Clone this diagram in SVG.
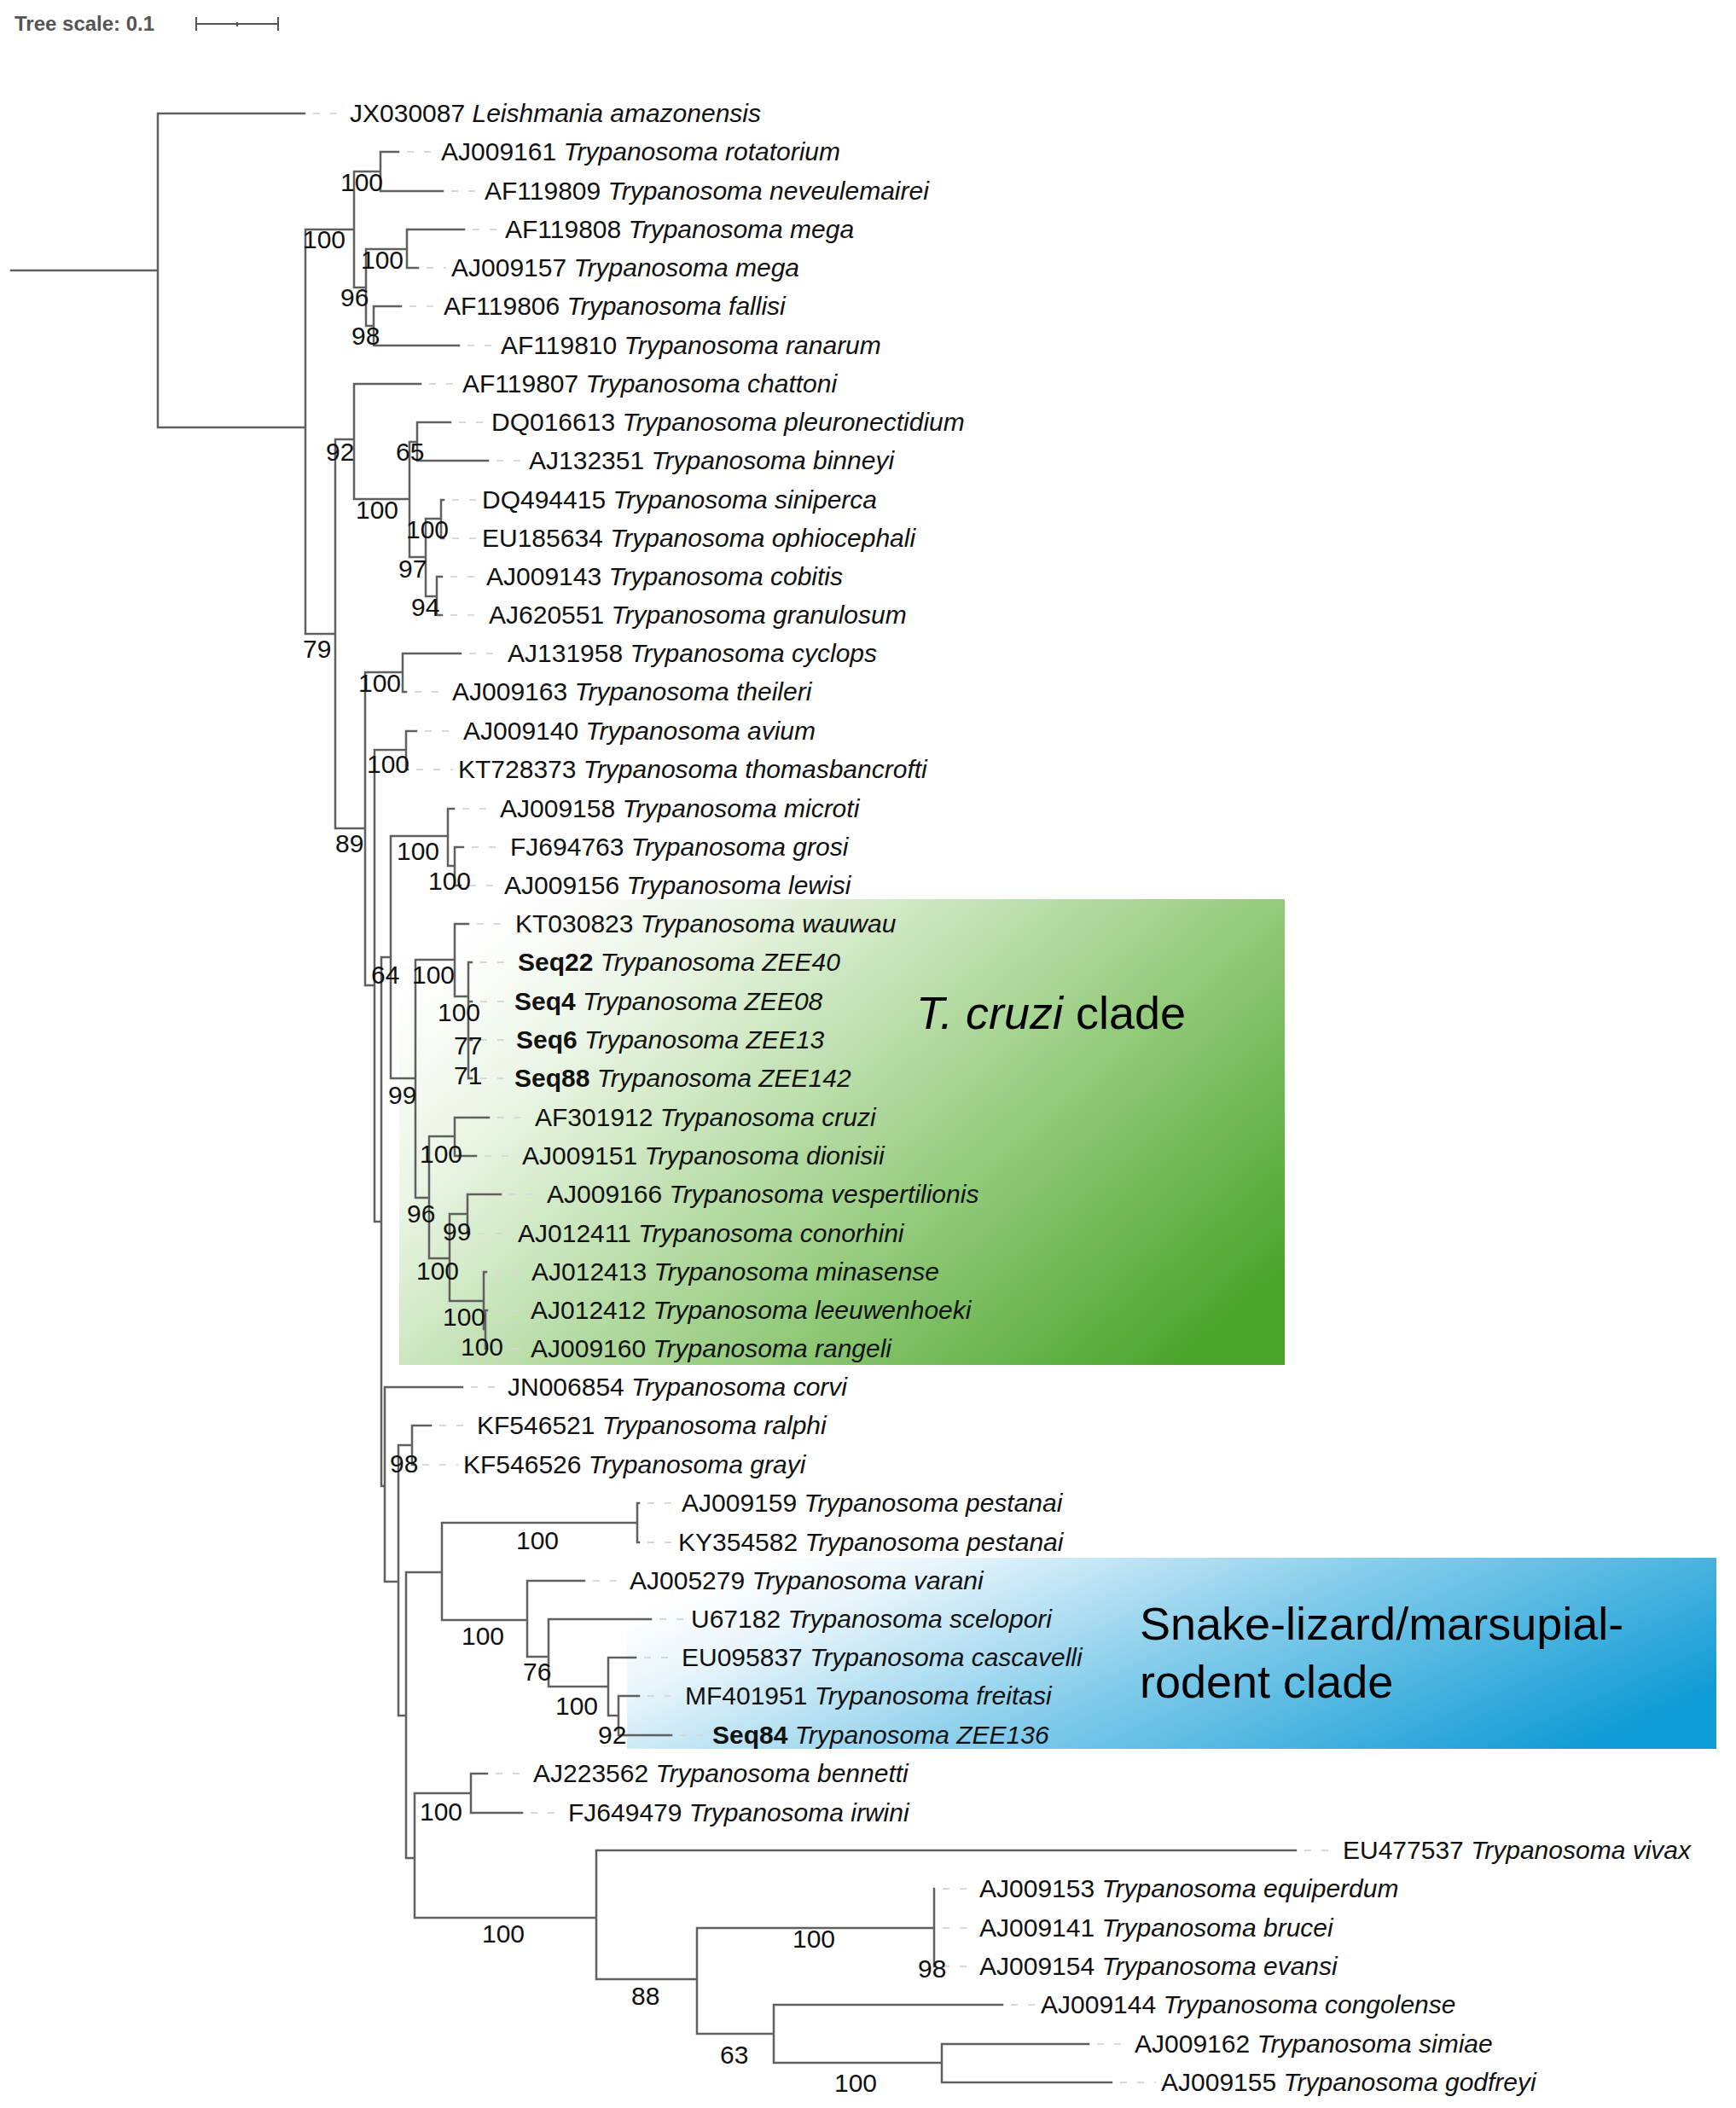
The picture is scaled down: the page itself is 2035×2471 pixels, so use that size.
<svg xmlns="http://www.w3.org/2000/svg" width="2035" height="2471" viewBox="0 0 2035 2471">
<defs>
<linearGradient id="gGreen" x1="0" y1="0.2" x2="1" y2="0.8">
<stop offset="0" stop-color="#ffffff"/><stop offset="0.2" stop-color="#eaf5e4"/><stop offset="0.6" stop-color="#9ccf85"/><stop offset="1" stop-color="#4aa52c"/>
</linearGradient>
<linearGradient id="gBlue" x1="0" y1="0.3" x2="1" y2="0.7">
<stop offset="0" stop-color="#ffffff"/><stop offset="0.15" stop-color="#e8f5fb"/><stop offset="0.5" stop-color="#86cdeb"/><stop offset="1" stop-color="#0f9bd4"/>
</linearGradient>
<style>
.t{font-family:"Liberation Sans",Arial,sans-serif;font-size:30px;fill:#111}
.i{font-style:italic}
.b{font-weight:bold}
.bs{font-family:"Liberation Sans",Arial,sans-serif;font-size:30px;fill:#111}
.br{fill:none;stroke:#606060;stroke-width:2.5;stroke-linecap:square}
.ld{fill:none;stroke:#d8d8d8;stroke-width:2;stroke-dasharray:8 12}
.cl{font-family:"Liberation Sans",Arial,sans-serif;font-size:54px;fill:#000}
</style>
</defs>
<rect width="2035" height="2471" fill="#fff"/>
<g id="highlights">
<rect x="468" y="1054" width="1038" height="546" fill="url(#gGreen)"/>
<rect x="735" y="1826" width="1277" height="224" fill="url(#gBlue)"/>
</g>
<g id="scale">
<text x="17" y="36" style="font-family:'Liberation Sans',Arial,sans-serif;font-size:24px;font-weight:bold;fill:#555">Tree scale: 0.1</text>
<path d="M230 28 H326 M230 20 V36 M326 20 V36 M278 26 V31" stroke="#555" stroke-width="2" fill="none"/>
</g>
<g id="connectors">
<path class="br" d="M13 317 H185 M185 133 V501 M185 133 H357
M185 501 H358 M358 269 V743
M358 269 H415 M415 201 V337
M415 201 H446 M446 178 V224 M446 178 H467 M446 224 H519
M415 337 H429 M429 292 V382
M429 292 H477 M477 269 V314 M477 269 H544 M477 314 H490
M429 382 H438 M438 359 V405 M438 359 H470 M438 405 H538
M358 743 H393 M393 515 V971
M393 515 H415 M415 450 V585 M415 450 H493
M415 585 H480 M480 518 V653
M480 518 H489 M489 495 V540 M489 495 H528 M489 540 H572
M480 653 H499 M499 608 V699
M499 608 H517 M517 586 V631 M517 586 H520 M517 631 H520
M499 699 H512 M512 676 V721 M512 676 H518 M512 721 H518
M393 971 H428 M428 788 V1155
M428 788 H472 M472 766 V811 M472 766 H540 M472 811 H476
M428 1155 H439 M439 879 V1432
M439 879 H476 M476 857 V902 M476 857 H488 M476 902 H478
M439 1432 H447 M447 1122 V1742
M447 1122 H458 M458 980 V1264
M458 980 H525 M525 948 V1015 M525 948 H532
M525 1015 H533 M533 993 V1038 M533 993 H543 M533 1038 H540
M458 1264 H487 M487 1125 V1404
M487 1125 H533 M533 1083 V1168 M533 1083 H549
M533 1168 H549 M549 1128 V1264 M549 1128 H553 M549 1174 H553 M549 1219 H553 M549 1264 H553
M487 1404 H503 M503 1332 V1475
M503 1332 H533 M533 1310 V1355 M533 1310 H573 M533 1355 H558
M503 1475 H527 M527 1423 V1525
M527 1423 H548 M548 1400 V1446 M548 1400 H587 M548 1446 H550
M527 1525 H567 M567 1491 V1558 M567 1491 H570 M567 1558 H569 M569 1536 V1581 M569 1536 H571 M569 1581 H571
M447 1742 H451 M451 1626 V1854 M451 1626 H542
M451 1854 H467 M467 1694 V2011
M467 1694 H483 M483 1671 V1717 M483 1671 H505 M483 1717 H485
M467 2011 H476 M476 1843 V2178
M476 1843 H518 M518 1785 V1899
M518 1785 H747 M747 1762 V1808 M747 1762 H749 M747 1808 H749
M518 1899 H618 M618 1853 V1942 M618 1853 H685
M618 1942 H643 M643 1898 V1977 M643 1898 H763
M643 1977 H713 M713 1943 V2011 M713 1943 H745
M713 2011 H725 M725 1988 V2034 M725 1988 H749 M725 2034 H787
M476 2178 H486 M486 2102 V2248
M486 2102 H552 M552 2079 V2125 M552 2079 H571 M552 2125 H612
M486 2248 H699 M699 2169 V2320 M699 2169 H1519
M699 2320 H817 M817 2260 V2384
M817 2260 H1095 M1095 2214 V2305
M817 2384 H907 M907 2350 V2418 M907 2350 H1175
M907 2418 H1104 M1104 2396 V2441 M1104 2396 H1276 M1104 2441 H1303"/>
<path class="ld" d="M367 133 H404 M477 178 H511 M529 224 H562 M554 269 H586 M500 314 H523 M480 359 H514 M548 405 H581 M503 450 H536 M538 495 H570 M582 540 H614 M530 586 H559 M530 631 H559 M528 676 H564 M528 721 H567 M550 766 H589 M486 811 H524 M498 857 H537 M488 902 H531 M542 948 H580 M553 993 H592 M550 1038 H585 M559 1083 H598 M563 1128 H601 M563 1174 H597 M563 1219 H599 M563 1264 H597 M583 1310 H621 M568 1355 H606 M597 1400 H635 M560 1446 H601 M580 1491 H617 M581 1536 H616 M581 1581 H616 M552 1626 H589 M515 1671 H553 M495 1717 H537 M759 1762 H793 M759 1808 H789 M695 1853 H732 M773 1898 H804 M755 1943 H793 M759 1988 H797 M797 2034 H829 M581 2079 H619 M622 2125 H660 M1529 2169 H1568 M1105 2214 H1142 M1105 2260 H1142 M1105 2305 H1142 M1185 2350 H1214 M1286 2396 H1324 M1313 2441 H1355"/>
</g>
<g id="leaves">
<g id="leaf1"><text class="t" x="410" y="143">JX030087 <tspan class="i">Leishmania amazonensis</tspan></text></g>
<g id="leaf2"><text class="t" x="517" y="188">AJ009161 <tspan class="i">Trypanosoma rotatorium</tspan></text></g>
<g id="leaf3"><text class="t" x="568" y="234">AF119809 <tspan class="i">Trypanosoma neveulemairei</tspan></text></g>
<g id="leaf4"><text class="t" x="592" y="279">AF119808 <tspan class="i">Trypanosoma mega</tspan></text></g>
<g id="leaf5"><text class="t" x="529" y="324">AJ009157 <tspan class="i">Trypanosoma mega</tspan></text></g>
<g id="leaf6"><text class="t" x="520" y="369">AF119806 <tspan class="i">Trypanosoma fallisi</tspan></text></g>
<g id="leaf7"><text class="t" x="587" y="415">AF119810 <tspan class="i">Trypanosoma ranarum</tspan></text></g>
<g id="leaf8"><text class="t" x="542" y="460">AF119807 <tspan class="i">Trypanosoma chattoni</tspan></text></g>
<g id="leaf9"><text class="t" x="576" y="505">DQ016613 <tspan class="i">Trypanosoma pleuronectidium</tspan></text></g>
<g id="leaf10"><text class="t" x="620" y="550">AJ132351 <tspan class="i">Trypanosoma binneyi</tspan></text></g>
<g id="leaf11"><text class="t" x="565" y="596">DQ494415 <tspan class="i">Trypanosoma siniperca</tspan></text></g>
<g id="leaf12"><text class="t" x="565" y="641">EU185634 <tspan class="i">Trypanosoma ophiocephali</tspan></text></g>
<g id="leaf13"><text class="t" x="570" y="686">AJ009143 <tspan class="i">Trypanosoma cobitis</tspan></text></g>
<g id="leaf14"><text class="t" x="573" y="731">AJ620551 <tspan class="i">Trypanosoma granulosum</tspan></text></g>
<g id="leaf15"><text class="t" x="595" y="776">AJ131958 <tspan class="i">Trypanosoma cyclops</tspan></text></g>
<g id="leaf16"><text class="t" x="530" y="821">AJ009163 <tspan class="i">Trypanosoma theileri</tspan></text></g>
<g id="leaf17"><text class="t" x="543" y="867">AJ009140 <tspan class="i">Trypanosoma avium</tspan></text></g>
<g id="leaf18"><text class="t" x="537" y="912">KT728373 <tspan class="i">Trypanosoma thomasbancrofti</tspan></text></g>
<g id="leaf19"><text class="t" x="586" y="958">AJ009158 <tspan class="i">Trypanosoma microti</tspan></text></g>
<g id="leaf20"><text class="t" x="598" y="1003">FJ694763 <tspan class="i">Trypanosoma grosi</tspan></text></g>
<g id="leaf21"><text class="t" x="591" y="1048">AJ009156 <tspan class="i">Trypanosoma lewisi</tspan></text></g>
<g id="leaf22"><text class="t" x="604" y="1093">KT030823 <tspan class="i">Trypanosoma wauwau</tspan></text></g>
<g id="leaf23"><text class="t" x="607" y="1138"><tspan class="b">Seq22</tspan> <tspan class="i">Trypanosoma ZEE40</tspan></text></g>
<g id="leaf24"><text class="t" x="603" y="1184"><tspan class="b">Seq4</tspan> <tspan class="i">Trypanosoma ZEE08</tspan></text></g>
<g id="leaf25"><text class="t" x="605" y="1229"><tspan class="b">Seq6</tspan> <tspan class="i">Trypanosoma ZEE13</tspan></text></g>
<g id="leaf26"><text class="t" x="603" y="1274"><tspan class="b">Seq88</tspan> <tspan class="i">Trypanosoma ZEE142</tspan></text></g>
<g id="leaf27"><text class="t" x="627" y="1320">AF301912 <tspan class="i">Trypanosoma cruzi</tspan></text></g>
<g id="leaf28"><text class="t" x="612" y="1365">AJ009151 <tspan class="i">Trypanosoma dionisii</tspan></text></g>
<g id="leaf29"><text class="t" x="641" y="1410">AJ009166 <tspan class="i">Trypanosoma vespertilionis</tspan></text></g>
<g id="leaf30"><text class="t" x="607" y="1456">AJ012411 <tspan class="i">Trypanosoma conorhini</tspan></text></g>
<g id="leaf31"><text class="t" x="623" y="1501">AJ012413 <tspan class="i">Trypanosoma minasense</tspan></text></g>
<g id="leaf32"><text class="t" x="622" y="1546">AJ012412 <tspan class="i">Trypanosoma leeuwenhoeki</tspan></text></g>
<g id="leaf33"><text class="t" x="622" y="1591">AJ009160 <tspan class="i">Trypanosoma rangeli</tspan></text></g>
<g id="leaf34"><text class="t" x="595" y="1636">JN006854 <tspan class="i">Trypanosoma corvi</tspan></text></g>
<g id="leaf35"><text class="t" x="559" y="1681">KF546521 <tspan class="i">Trypanosoma ralphi</tspan></text></g>
<g id="leaf36"><text class="t" x="543" y="1727">KF546526 <tspan class="i">Trypanosoma grayi</tspan></text></g>
<g id="leaf37"><text class="t" x="799" y="1772">AJ009159 <tspan class="i">Trypanosoma pestanai</tspan></text></g>
<g id="leaf38"><text class="t" x="795" y="1818">KY354582 <tspan class="i">Trypanosoma pestanai</tspan></text></g>
<g id="leaf39"><text class="t" x="738" y="1863">AJ005279 <tspan class="i">Trypanosoma varani</tspan></text></g>
<g id="leaf40"><text class="t" x="810" y="1908">U67182 <tspan class="i">Trypanosoma scelopori</tspan></text></g>
<g id="leaf41"><text class="t" x="799" y="1953">EU095837 <tspan class="i">Trypanosoma cascavelli</tspan></text></g>
<g id="leaf42"><text class="t" x="803" y="1998">MF401951 <tspan class="i">Trypanosoma freitasi</tspan></text></g>
<g id="leaf43"><text class="t" x="835" y="2044"><tspan class="b">Seq84</tspan> <tspan class="i">Trypanosoma ZEE136</tspan></text></g>
<g id="leaf44"><text class="t" x="625" y="2089">AJ223562 <tspan class="i">Trypanosoma bennetti</tspan></text></g>
<g id="leaf45"><text class="t" x="666" y="2135">FJ649479 <tspan class="i">Trypanosoma irwini</tspan></text></g>
<g id="leaf46"><text class="t" x="1574" y="2179">EU477537 <tspan class="i">Trypanosoma vivax</tspan></text></g>
<g id="leaf47"><text class="t" x="1148" y="2224">AJ009153 <tspan class="i">Trypanosoma equiperdum</tspan></text></g>
<g id="leaf48"><text class="t" x="1148" y="2270">AJ009141 <tspan class="i">Trypanosoma brucei</tspan></text></g>
<g id="leaf49"><text class="t" x="1148" y="2315">AJ009154 <tspan class="i">Trypanosoma evansi</tspan></text></g>
<g id="leaf50"><text class="t" x="1220" y="2360">AJ009144 <tspan class="i">Trypanosoma congolense</tspan></text></g>
<g id="leaf51"><text class="t" x="1330" y="2406">AJ009162 <tspan class="i">Trypanosoma simiae</tspan></text></g>
<g id="leaf52"><text class="t" x="1361" y="2451">AJ009155 <tspan class="i">Trypanosoma godfreyi</tspan></text></g>
</g>
<g id="bootstrap" class="bs">
<text class="bs" x="399" y="224">100</text>
<text class="bs" x="355" y="291">100</text>
<text class="bs" x="423" y="315">100</text>
<text class="bs" x="399" y="359">96</text>
<text class="bs" x="412" y="404">98</text>
<text class="bs" x="382" y="540">92</text>
<text class="bs" x="464" y="540">65</text>
<text class="bs" x="417" y="608">100</text>
<text class="bs" x="476" y="631">100</text>
<text class="bs" x="467" y="677">97</text>
<text class="bs" x="482" y="722">94</text>
<text class="bs" x="355" y="771">79</text>
<text class="bs" x="420" y="811">100</text>
<text class="bs" x="430" y="906">100</text>
<text class="bs" x="393" y="999">89</text>
<text class="bs" x="465" y="1008">100</text>
<text class="bs" x="502" y="1043">100</text>
<text class="bs" x="435" y="1153">64</text>
<text class="bs" x="483" y="1153">100</text>
<text class="bs" x="513" y="1197">100</text>
<text class="bs" x="532" y="1236">77</text>
<text class="bs" x="532" y="1271">71</text>
<text class="bs" x="455" y="1294">99</text>
<text class="bs" x="492" y="1363">100</text>
<text class="bs" x="477" y="1433">96</text>
<text class="bs" x="519" y="1454">99</text>
<text class="bs" x="488" y="1500">100</text>
<text class="bs" x="519" y="1554">100</text>
<text class="bs" x="540" y="1589">100</text>
<text class="bs" x="457" y="1726">98</text>
<text class="bs" x="605" y="1816">100</text>
<text class="bs" x="541" y="1928">100</text>
<text class="bs" x="613" y="1970">76</text>
<text class="bs" x="651" y="2010">100</text>
<text class="bs" x="701" y="2044">92</text>
<text class="bs" x="492" y="2134">100</text>
<text class="bs" x="565" y="2277">100</text>
<text class="bs" x="740" y="2350">88</text>
<text class="bs" x="929" y="2283">100</text>
<text class="bs" x="1076" y="2318">98</text>
<text class="bs" x="844" y="2419">63</text>
<text class="bs" x="978" y="2452">100</text>
</g>
<g id="clade-labels">
<text class="cl" x="1074" y="1206"><tspan font-style="italic">T. cruzi</tspan> clade</text>
<text class="cl" x="1336" y="1922">Snake-lizard/marsupial-</text>
<text class="cl" x="1336" y="1990">rodent clade</text>
</g>
</svg>
